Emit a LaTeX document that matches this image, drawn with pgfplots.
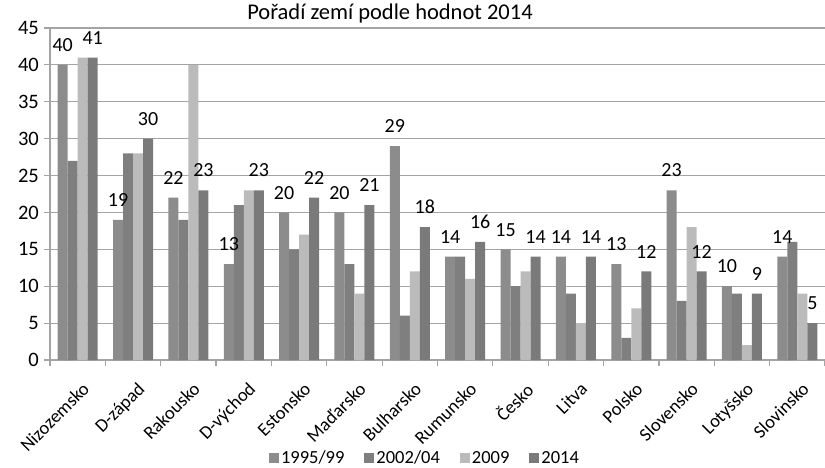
\documentclass[border=0pt]{standalone}
\usepackage{fontspec}
\setmainfont{Carlito}
\usepackage{pgfplots}
\pgfplotsset{compat=1.18}
\definecolor{cA}{HTML}{8C8C8C}
\definecolor{cB}{HTML}{7F7F7F}
\definecolor{cC}{HTML}{BBBBBB}
\definecolor{cD}{HTML}{7A7A7A}
\definecolor{gridgray}{HTML}{A4A4A4}
\begin{document}
\begin{tikzpicture}
\begin{axis}[
  at={(0,0)}, anchor=south west,
  scale only axis, width=775pt, height=332pt,
  xmin=-0.5, xmax=13.5, ymin=0, ymax=45,
  ytick={0,5,...,45},
  xtick={0,...,13},
  xticklabels={Nizozemsko,D-západ,Rakousko,D-východ,Estonsko,Maďarsko,Bulharsko,Rumunsko,Česko,Litva,Polsko,Slovensko,Lotyšsko,Slovinsko},
  minor xtick={-0.5,0.5,...,13.5},
  x tick style={draw=none},
  minor x tick style={draw=gridgray, line width=1.2pt},
  minor tick length=6pt,
  y tick style={draw=gridgray, line width=1.2pt},
  major tick length=6pt,
  tick align=outside,
  axis x line*=bottom, axis y line*=left,
  axis line style={draw=gridgray, line width=1.2pt, -},
  ymajorgrids, grid style={draw=gridgray, line width=1.2pt},
  /pgf/number format/assume math mode=true,
  yticklabel style={font=\fontsize{20.5}{22}\selectfont, inner sep=2pt, xshift=-3pt},
  xticklabel style={font=\fontsize{18.5}{20}\selectfont, rotate=45, anchor=north east, inner sep=1pt, yshift=-12pt, xshift=-7pt},
  title={Pořadí zemí podle hodnot 2014},
  title style={font=\fontsize{22.5}{24}\selectfont, at={(340/775,1)}, anchor=base, yshift=3pt, inner sep=0pt},
  ybar=0pt, bar width=10pt,
  legend style={at={(375/775,-98/332)}, anchor=center, draw=none, legend columns=-1,
    font=\fontsize{18.5}{20}\selectfont,
    /tikz/every even column/.append style={column sep=18pt}},
  legend image code/.code={\fill[#1] (0pt,-5pt) rectangle (10pt,5pt);},
  nodes near coords style={font=\fontsize{20}{22}\selectfont, anchor=south, inner sep=0pt, yshift=13pt, color=black},
]
\addplot[fill=cA, draw=none, nodes near coords] coordinates {
(0,40) (1,19) (2,22) (3,13) (4,20) (5,20) (6,29) (7,14) (8,15) (9,14) (10,13) (11,23) (12,10) (13,14)};
\addplot[fill=cB, draw=none] coordinates {
(0,27) (1,28) (2,19) (3,21) (4,15) (5,13) (6,6) (7,14) (8,10) (9,9) (10,3) (11,8) (12,9) (13,16)};
\addplot[fill=cC, draw=none] coordinates {
(0,41) (1,28) (2,40) (3,23) (4,17) (5,9) (6,12) (7,11) (8,12) (9,5) (10,7) (11,18) (12,2) (13,9)};
\addplot[fill=cD, draw=none, nodes near coords] coordinates {
(0,41) (1,30) (2,23) (3,23) (4,22) (5,21) (6,18) (7,16) (8,14) (9,14) (10,12) (11,12) (12,9) (13,5)};
\legend{1995/99,2002/04,2009,2014}
\end{axis}
\pgfresetboundingbox
\useasboundingbox (-50pt,-107pt) rectangle (775pt,360pt);
\end{tikzpicture}
\end{document}
